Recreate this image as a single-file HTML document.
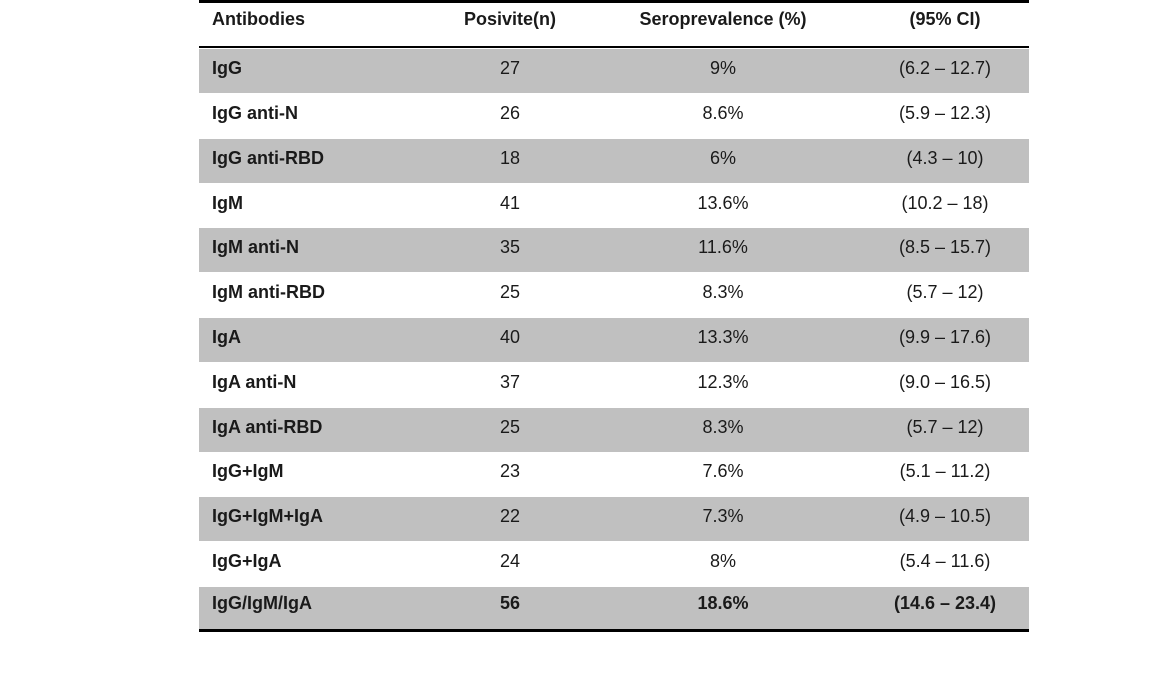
<!DOCTYPE html>
<html><head><meta charset="utf-8"><style>
body{margin:0;background:#fff;width:1174px;height:694px;position:relative;overflow:hidden;font-family:"Liberation Sans",sans-serif;color:#1a1a1a}
.l{position:absolute;left:199px;width:830px;background:#000}
.r{position:absolute;left:199px;width:830px;height:44px}
.g{background:#c0c0c0}
.c{position:absolute;top:0;line-height:38px;font-size:18px;white-space:nowrap}
.a{left:13px;font-weight:bold}
.b{left:311px;width:0;display:flex;justify-content:center}
.d{left:524px;width:0;display:flex;justify-content:center}
.e{left:746px;width:0;display:flex;justify-content:center}
</style></head><body>
<div class="l" style="top:0;height:3px"></div>
<div class="r" style="top:0;height:44px"><div class="c a">Antibodies</div><div class="c b" style="font-weight:bold">Posivite(n)</div><div class="c d" style="font-weight:bold">Seroprevalence (%)</div><div class="c e" style="font-weight:bold">(95% CI)</div></div>
<div class="l" style="top:46px;height:2px"></div>
<div class="r g" style="top:49px"><div class="c a">IgG</div><div class="c b">27</div><div class="c d">9%</div><div class="c e">(6.2 – 12.7)</div></div>
<div class="r" style="top:94px"><div class="c a">IgG anti-N</div><div class="c b">26</div><div class="c d">8.6%</div><div class="c e">(5.9 – 12.3)</div></div>
<div class="r g" style="top:139px"><div class="c a">IgG anti-RBD</div><div class="c b">18</div><div class="c d">6%</div><div class="c e">(4.3 – 10)</div></div>
<div class="r" style="top:184px"><div class="c a">IgM</div><div class="c b">41</div><div class="c d">13.6%</div><div class="c e">(10.2 – 18)</div></div>
<div class="r g" style="top:228px"><div class="c a">IgM anti-N</div><div class="c b">35</div><div class="c d">11.6%</div><div class="c e">(8.5 – 15.7)</div></div>
<div class="r" style="top:273px"><div class="c a">IgM anti-RBD</div><div class="c b">25</div><div class="c d">8.3%</div><div class="c e">(5.7 – 12)</div></div>
<div class="r g" style="top:318px"><div class="c a">IgA</div><div class="c b">40</div><div class="c d">13.3%</div><div class="c e">(9.9 – 17.6)</div></div>
<div class="r" style="top:363px"><div class="c a">IgA anti-N</div><div class="c b">37</div><div class="c d">12.3%</div><div class="c e">(9.0 – 16.5)</div></div>
<div class="r g" style="top:408px"><div class="c a">IgA anti-RBD</div><div class="c b">25</div><div class="c d">8.3%</div><div class="c e">(5.7 – 12)</div></div>
<div class="r" style="top:452px"><div class="c a">IgG+IgM</div><div class="c b">23</div><div class="c d">7.6%</div><div class="c e">(5.1 – 11.2)</div></div>
<div class="r g" style="top:497px"><div class="c a">IgG+IgM+IgA</div><div class="c b">22</div><div class="c d">7.3%</div><div class="c e">(4.9 – 10.5)</div></div>
<div class="r" style="top:542px"><div class="c a">IgG+IgA</div><div class="c b">24</div><div class="c d">8%</div><div class="c e">(5.4 – 11.6)</div></div>
<div class="r g" style="top:587px;height:42px"><div class="c a" style="line-height:32px">IgG/IgM/IgA</div><div class="c b" style="line-height:32px;font-weight:bold">56</div><div class="c d" style="line-height:32px;font-weight:bold">18.6%</div><div class="c e" style="line-height:32px;font-weight:bold">(14.6 – 23.4)</div></div>
<div class="l" style="top:629px;height:3px"></div>
</body></html>
